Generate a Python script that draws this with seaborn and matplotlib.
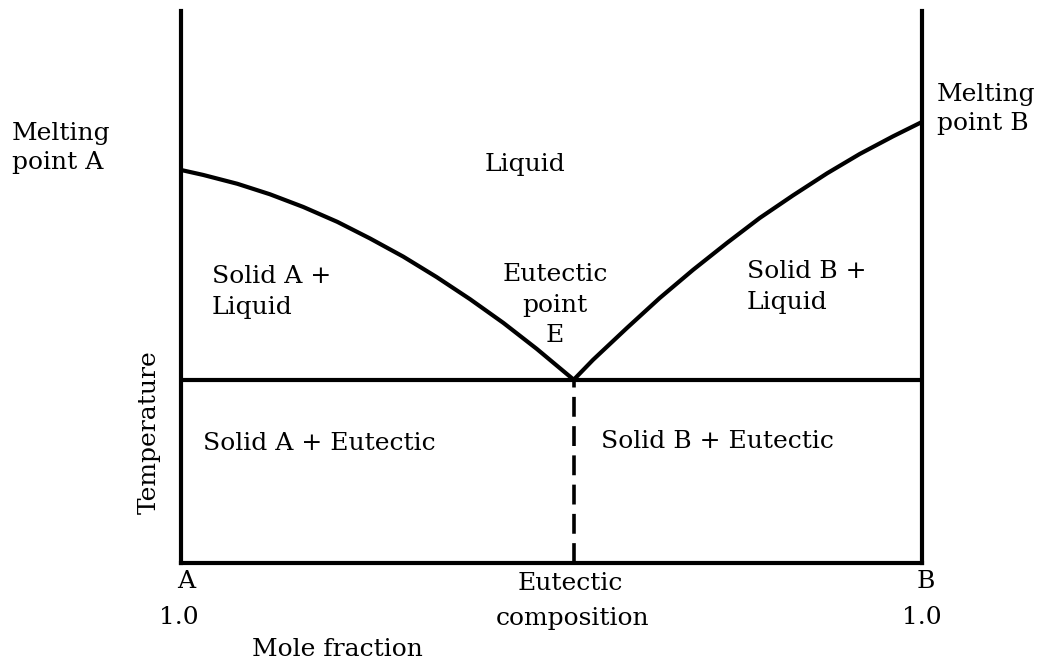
import numpy as np
import pandas as pd
import matplotlib
matplotlib.use("Agg")
import matplotlib.pyplot as plt
import seaborn as sns

# ---- data (x = mole fraction of B, T = temperature in arbitrary units 0..100) ----
liquidus_A_x = [0.000, 0.030, 0.076, 0.120, 0.165, 0.211, 0.255, 0.300, 0.345, 0.390, 0.435, 0.480, 0.530]
liquidus_A_T = [71.2, 70.3, 68.7, 66.8, 64.5, 61.8, 58.8, 55.5, 51.8, 47.8, 43.5, 38.8, 33.2]
liquidus_B_x = [0.530, 0.556, 0.602, 0.646, 0.691, 0.737, 0.781, 0.826, 0.872, 0.916, 0.961, 1.000]
liquidus_B_T = [33.2, 36.8, 42.6, 48.0, 53.1, 58.0, 62.5, 66.6, 70.6, 74.1, 77.3, 79.9]
eutectic_x = 0.530
eutectic_T = 33.2

region_labels = ["Liquid", "Solid A +\nLiquid", "Eutectic\npoint\nE", "Solid B +\nLiquid",
                 "Solid A + Eutectic", "Solid B + Eutectic"]
end_labels = ["Melting\npoint A", "Melting\npoint B"]
axis_labels = ["A", "1.0", "Eutectic", "composition", "B", "1.0", "Mole fraction", "Temperature"]

sns.set_style("white")
plt.rcParams['font.family'] = ['DejaVu Serif']

W, H = 1051, 672
fig = plt.figure(figsize=(W / 100, H / 100), dpi=100)
ax = fig.add_axes([181 / W, 1 - 563 / H, (922 - 181) / W, (563 - 11) / H])

lw = 3.0
dfA = pd.DataFrame({"x": liquidus_A_x, "T": liquidus_A_T})
dfB = pd.DataFrame({"x": liquidus_B_x, "T": liquidus_B_T})
sns.lineplot(data=dfA, x="x", y="T", ax=ax, color="black", lw=lw, estimator=None)
sns.lineplot(data=dfB, x="x", y="T", ax=ax, color="black", lw=lw, estimator=None)
ax.hlines(eutectic_T, 0, 1, color="black", lw=lw)
ax.vlines(eutectic_x, 0, eutectic_T, color="black", lw=2.6, linestyles=(0, (5.5, 2.6)))

ax.set_xlim(0, 1)
ax.set_ylim(0, 100)
ax.set_xticks([])
ax.set_yticks([])
ax.set_xlabel("")
ax.set_ylabel("")
for s in ["left", "right", "bottom"]:
    ax.spines[s].set_visible(True)
    ax.spines[s].set_linewidth(lw)
    ax.spines[s].set_color("black")
ax.spines["top"].set_visible(False)

fs = 18


def ftext(px, py, s, ha="center", rot=0, ls=1.4):
    fig.text(px / W, 1 - py / H, s, ha=ha, va="center", fontsize=fs, rotation=rot,
             linespacing=ls, color="black")


# region labels
ftext(525, 164, region_labels[0])
ftext(212, 292, region_labels[1], ha="left")
ftext(555, 305, region_labels[2], ls=1.4)
ftext(747, 287, region_labels[3], ha="left")
ftext(203, 443, region_labels[4], ha="left")
ftext(601, 442, region_labels[5], ha="left")

# end labels
ftext(12, 148, end_labels[0], ha="left", ls=1.3)
ftext(937, 109, end_labels[1], ha="left", ls=1.3)

# axis labels
ftext(186, 582, axis_labels[0])
ftext(179, 617, axis_labels[1])
ftext(570, 583, axis_labels[2])
ftext(573, 618, axis_labels[3])
ftext(926, 581, axis_labels[4])
ftext(922, 617, axis_labels[5])
ftext(337, 650, axis_labels[6])
ftext(149, 432, axis_labels[7], rot=90)

fig.savefig("out.png", dpi=100)
